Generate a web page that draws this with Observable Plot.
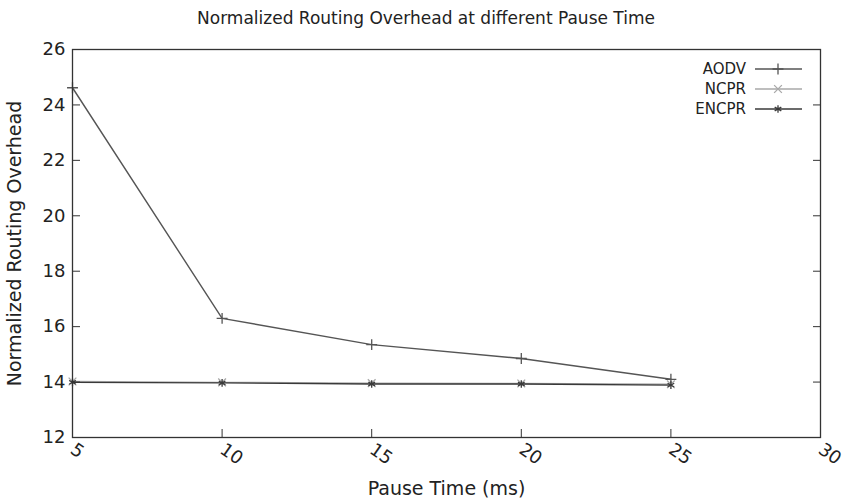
<!DOCTYPE html>
<html><head><meta charset="utf-8">
<script src="https://cdn.jsdelivr.net/npm/d3@7"></script>
<script src="https://cdn.jsdelivr.net/npm/@observablehq/plot@0.6"></script>
<style>
body{margin:0;background:#fff;font-family:"DejaVu Sans",sans-serif;}
#wrap{position:relative;width:852px;height:499px;}
#title{height:35px;line-height:36px;text-align:center;font-size:17px;color:#222;}
#legend{position:absolute;left:0;top:0;}
</style></head><body>
<div id="wrap">
<div id="title">Normalized Routing Overhead at different Pause Time</div>
<div id="chart"></div>
<svg id="legend" width="852" height="140"></svg>
</div>
<script>
const pauseTimes = [5, 10, 15, 20, 25];
const aodv  = [24.62, 16.3, 15.35, 14.85, 14.1];
const ncpr  = [14.02, 13.99, 13.96, 13.95, 13.92];
const encpr = [13.99, 13.97, 13.93, 13.93, 13.89];
const seriesNames = ["AODV", "NCPR", "ENCPR"];
const seriesValues = [aodv, ncpr, encpr];
const seriesColors = ["#555555", "#a8a8a8", "#3a3a3a"];
const seriesSymbols = ["plus", "times", "asterisk"];
const xTicks = [5, 10, 15, 20, 25, 30];
const yTicks = [12, 14, 16, 18, 20, 22, 24, 26];

const rows = [];
seriesNames.forEach((s, i) => pauseTimes.forEach((t, j) => rows.push({series: s, t, v: seriesValues[i][j]})));

const marks = [];
seriesNames.forEach((s, i) => {
  const d = rows.filter(r => r.series === s);
  marks.push(Plot.line(d, {x: "t", y: "v", stroke: seriesColors[i], strokeWidth: 1.4}));
  marks.push(Plot.dot(d, {x: "t", y: "v", stroke: seriesColors[i], symbol: seriesSymbols[i], r: 3.6, strokeWidth: 1.3}));
});

const chart = Plot.plot({
  width: 852, height: 464,
  marginTop: 14, marginBottom: 62, marginLeft: 72, marginRight: 32,
  style: {fontFamily: "DejaVu Sans", fontSize: "18px", color: "#222", background: "#fff"},
  x: {domain: [5, 30]},
  y: {domain: [12, 26]},
  marks: [
    ...marks,
    Plot.axisY(yTicks, {anchor: "left", tickSize: 0, tickPadding: 7, fontSize: 18, label: null}),
    Plot.axisY({anchor: "left", ticks: [], tickSize: 0, fontSize: 19, label: "Normalized Routing Overhead", labelAnchor: "center", labelOffset: 65, labelArrow: "none"}),
    Plot.axisY(yTicks, {anchor: "left", tickSize: -8, tickFormat: () => "", label: null, stroke: "#333"}),
    Plot.axisY(yTicks, {anchor: "right", tickSize: -8, tickFormat: () => "", label: null, stroke: "#333"}),
    Plot.axisX(xTicks, {anchor: "bottom", tickSize: 0, tickPadding: 10, tickRotate: 35, fontSize: 18, label: null}),
    Plot.axisX({anchor: "bottom", ticks: [], tickSize: 0, fontSize: 19, label: "Pause Time (ms)", labelAnchor: "center", labelOffset: 57, labelArrow: "none"}),
    Plot.axisX(xTicks, {anchor: "bottom", tickSize: -8, tickFormat: () => "", label: null, stroke: "#333"}),
    Plot.frame({stroke: "#333", strokeWidth: 1.3})
  ]
});
document.getElementById("chart").appendChild(chart);

// legend
const lg = d3.select("#legend");
const symMap = {plus: d3.symbolPlus, times: d3.symbolTimes, asterisk: d3.symbolAsterisk};
seriesNames.forEach((s, i) => {
  const y = 69 + i * 20;
  lg.append("text").attr("x", 746).attr("y", y).attr("text-anchor", "end").attr("dominant-baseline", "middle")
    .attr("font-size", 15).attr("font-family", "DejaVu Sans").attr("fill", "#222").text(s);
  lg.append("line").attr("x1", 755).attr("x2", 802).attr("y1", y).attr("y2", y).attr("stroke", seriesColors[i]).attr("stroke-width", 1.4);
  lg.append("path").attr("d", d3.symbol(symMap[seriesSymbols[i]], 3.6 * 3.6 * Math.PI)()).attr("transform", `translate(778,${y})`)
    .attr("fill", "none").attr("stroke", seriesColors[i]).attr("stroke-width", 1.3);
});
</script>
</body></html>
